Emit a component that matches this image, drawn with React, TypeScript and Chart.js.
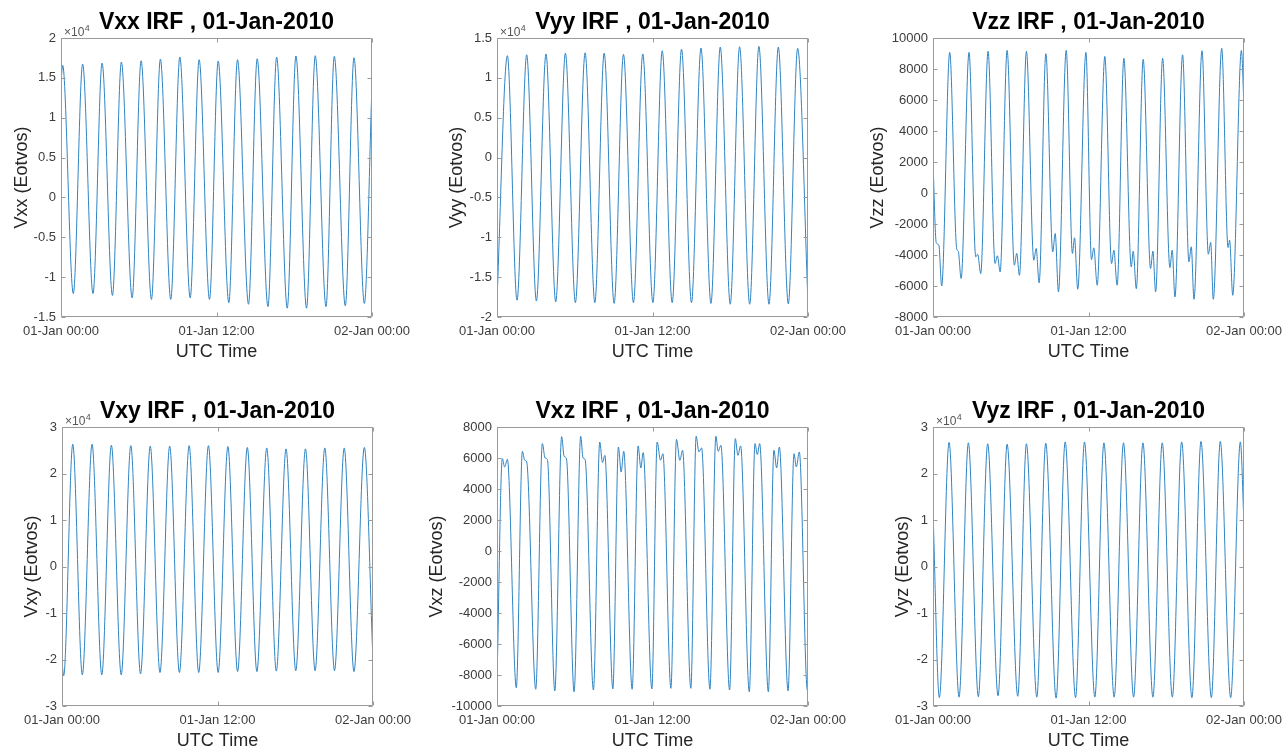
import React, { useEffect, useRef } from 'react';
import { Chart, registerables } from 'chart.js';

Chart.register(...registerables);

const FONT = '"Liberation Sans", Arial, Helvetica, sans-serif';

// ---- shared x axis (hours after 01-Jan-2010 00:00 UTC) ----
const xTickHours = [0, 12, 24];
const xTickLabels = ['01-Jan 00:00', '01-Jan 12:00', '02-Jan 00:00'];

// ---- Vxx (Eotvos): extrema ----
const vxxHours = [0, 0.13, 0.95, 1.67, 2.47, 3.17, 3.97, 4.66, 5.49, 6.18, 6.98, 7.67, 8.47, 9.17, 9.97, 10.66, 11.46, 12.13, 12.95, 13.62, 14.47, 15.14, 15.97, 16.64, 17.46, 18.13, 18.95, 19.62, 20.45, 21.09, 21.94, 22.61, 23.41, 24];
const vxxValues = [14500, 16560, -12060, 16730, -12060, 16860, -12300, 16980, -12600, 17150, -12800, 17360, -12800, 17610, -12600, 17280, -12800, 17110, -13200, 17280, -13400, 17400, -13700, 17610, -13900, 17740, -13900, 17780, -13700, 17700, -13600, 17530, -13300, 14200];
const vxxTicks = [-15000, -10000, -5000, 0, 5000, 10000, 15000, 20000];

// ---- Vyy ----
const vyyHours = [0, 0.8, 1.545, 2.29, 3.04, 3.78, 4.53, 5.28, 6.05, 6.8, 7.55, 8.27, 9.04, 9.76, 10.53, 11.25, 12.03, 12.75, 13.52, 14.24, 15.01, 15.74, 16.51, 17.23, 18.0, 18.72, 19.5, 20.21, 20.99, 21.71, 22.48, 23.2, 24];
const vyyValues = [-17900, 12780, -17900, 12900, -18000, 13000, -18100, 13100, -18200, 13150, -18200, 13100, -18300, 12950, -18200, 13000, -18200, 13400, -18200, 13600, -18200, 13750, -18300, 13870, -18400, 13900, -18400, 13950, -18400, 13870, -18350, 13700, -18300];
const vyyTicks = [-20000, -15000, -10000, -5000, 0, 5000, 10000, 15000];

// ---- Vzz ----
const vzzHours = [0, 0.25, 0.45, 0.67,
  1.29, 1.83, 1.95, 2.17,
  2.78, 3.30, 3.45, 3.68,
  4.25, 4.79, 4.97, 5.18,
  5.72, 6.28, 6.46, 6.67,
  7.21, 7.78, 7.96, 8.19,
  8.71, 9.24, 9.43, 9.68,
  10.28, 10.76, 10.92, 11.17,
  11.80, 12.23, 12.41, 12.67,
  13.26, 13.78, 13.96, 14.21,
  14.73, 15.30, 15.45, 15.69,
  16.22, 16.79, 16.97, 17.18,
  17.72, 18.28, 18.46, 18.67,
  19.26, 19.75, 19.93, 20.14,
  20.76, 21.25, 21.43, 21.63,
  22.28, 22.77, 22.89, 23.13,
  23.80, 24];
const vzzValues = [2000, -3200, -3350, -6000,
  9070, -3600, -3750, -5520,
  9070, -4120, -3950, -5200,
  9140, -4550, -4050, -5090,
  9200, -4660, -3900, -5310,
  9140, -4340, -3580, -5800,
  8990, -3800, -2610, -6380,
  9200, -3900, -2890, -6210,
  9070, -4290, -3540, -5950,
  8810, -4550, -3690, -5950,
  8690, -4770, -3750, -6170,
  8620, -4870, -3750, -6380,
  8690, -4810, -3690, -6710,
  8920, -4440, -3470, -6860,
  9180, -3950, -3190, -6860,
  9330, -3520, -3040, -6600,
  9200, 5500];
const vzzTicks = [-8000, -6000, -4000, -2000, 0, 2000, 4000, 6000, 8000, 10000];

// ---- Vxy ----
const vxyHours = [0, 0.13, 0.83, 1.57, 2.32, 3.07, 3.81, 4.57, 5.31, 6.06, 6.81, 7.56, 8.31, 9.06, 9.81, 10.55, 11.3, 12.05, 12.8, 13.55, 14.3, 15.04, 15.8, 16.54, 17.29, 18.04, 18.79, 19.53, 20.28, 21.03, 21.78, 22.53, 23.33, 24];
const vxyValues = [-20500, -23500, 26300, -23300, 26300, -23300, 26100, -23300, 26000, -23100, 25900, -22800, 25900, -22800, 26000, -22800, 26000, -22800, 25800, -22600, 25600, -22600, 25500, -22500, 25300, -22400, 25300, -22400, 25500, -22400, 25500, -22600, 25600, -20500];
const vxyTicks = [-30000, -20000, -10000, 0, 10000, 20000, 30000];

// ---- Vxz ----
const vxzHours = [0, 0.41, 0.59, 0.80,
  1.49, 1.96, 2.14, 2.29,
  2.99, 3.50, 3.71, 3.89,
  4.46, 4.99, 5.18, 5.36,
  5.95, 6.46, 6.64, 6.80,
  7.44, 7.93, 8.14, 8.32,
  8.94, 9.37, 9.58, 9.78,
  10.43, 10.89, 11.10, 11.28,
  11.95, 12.36, 12.62, 12.80,
  13.42, 13.85, 14.11, 14.32,
  14.96, 15.37, 15.58, 15.79,
  16.43, 16.89, 17.07, 17.28,
  17.95, 18.39, 18.59, 18.80,
  19.47, 19.91, 20.09, 20.27,
  20.94, 21.37, 21.58, 21.79,
  22.46, 22.92, 23.10, 23.33,
  23.95, 24];
const vxzValues = [-8500, 5960, 5420, 5920,
  -8820, 6430, 5850, 5750,
  -8920, 6930, 6000, 5900,
  -9030, 7380, 6100, 5950,
  -9080, 7400, 6000, 5900,
  -8970, 7030, 5700, 6170,
  -8900, 6710, 5100, 6430,
  -8920, 6780, 5360, 6350,
  -8900, 7030, 5850, 6280,
  -8860, 7200, 5850, 6500,
  -8860, 7400, 6390, 6650,
  -8920, 7400, 6430, 6820,
  -8970, 7250, 6170, 6780,
  -9080, 6930, 6220, 6930,
  -9080, 6500, 5360, 6710,
  -9030, 6280, 5420, 6390,
  -8970, -8900];
const vxzTicks = [-10000, -8000, -6000, -4000, -2000, 0, 2000, 4000, 6000, 8000];

// ---- Vyz ----
const vyzHours = [0, 0.49, 1.24, 2.01, 2.73, 3.5, 4.22, 5.02, 5.72, 6.54, 7.21, 8.01, 8.7, 9.5, 10.2, 11.0, 11.69, 12.49, 13.19, 13.98, 14.7, 15.48, 16.2, 16.97, 17.69, 18.47, 19.19, 19.98, 20.68, 21.48, 22.17, 22.97, 23.72, 24];
const vyzValues = [12000, -28200, 26700, -28100, 26600, -28000, 26400, -27800, 26300, -27900, 26400, -28100, 26500, -28300, 26800, -28200, 26800, -28100, 26600, -28100, 26600, -28100, 26600, -28100, 26600, -28100, 26800, -28200, 26900, -28200, 26900, -28200, 26800, 9000];
const vyzTicks = [-30000, -20000, -10000, 0, 10000, 20000, 30000];

// ---- styling / layout constants ----
const LINE_COLOR = '#2f84c3';
const BOX_COLOR = '#9a9a9a';
const TICK_TEXT = '#3c3c3c';
const LABEL_TEXT = '#262626';
const PLOT_W = 311;
const PLOT_H = 279;
const TITLE_H = 38;
const X_AXIS_H = 46;
const PAD_R = 38;

const framePlugin = {
  id: 'matlabFrame',
  afterDraw(chart: any, _args: any, opts: any) {
    const { ctx, chartArea: a, scales } = chart;
    const L = Math.round(a.left) + 0.5;
    const R = Math.round(a.right) - 0.5;
    const T = Math.round(a.top) + 0.5;
    const B = Math.round(a.bottom) - 0.5;
    const tl = 4;
    ctx.save();
    ctx.strokeStyle = BOX_COLOR;
    ctx.lineWidth = 1;
    ctx.beginPath();
    ctx.rect(L, T, R - L, B - T);
    for (const t of scales.y.ticks) {
      const y = Math.round(scales.y.getPixelForValue(t.value)) + 0.5;
      ctx.moveTo(L, y); ctx.lineTo(L + tl, y);
      ctx.moveTo(R, y); ctx.lineTo(R - tl, y);
    }
    for (const t of scales.x.ticks) {
      const x = Math.round(scales.x.getPixelForValue(t.value)) + 0.5;
      ctx.moveTo(x, B); ctx.lineTo(x, B - tl);
      ctx.moveTo(x, T); ctx.lineTo(x, T + tl);
    }
    ctx.stroke();
    if (opts && opts.exponent) {
      ctx.fillStyle = '#555555';
      ctx.textBaseline = 'alphabetic';
      ctx.textAlign = 'left';
      ctx.font = `12px ${FONT}`;
      const base = '\u00d710';
      ctx.fillText(base, a.left + 3, a.top - 2);
      const w = ctx.measureText(base).width;
      ctx.font = `9px ${FONT}`;
      ctx.fillText('4', a.left + 3 + w + 0.5, a.top - 7);
    }
    ctx.restore();
  },
};

type PanelProps = {
  title: string;
  yLabel: string;
  hours: number[];
  values: number[];
  yTicks: number[];
  exponent: boolean;
  plotL: number;
  plotT: number;
  yTitleX: number;
};

function fmtY(v: number, exponent: boolean): string {
  if (exponent) {
    const n = Math.round((v / 1e4) * 100) / 100;
    return String(n);
  }
  return String(v);
}

function Panel(p: PanelProps) {
  const ref = useRef<HTMLCanvasElement | null>(null);
  const canvasLeft = Math.round(p.yTitleX - 12.8);
  const yw = p.plotL - canvasLeft;
  const yTitlePad = p.yTitleX - canvasLeft - 10.8;
  const W = yw + PLOT_W + PAD_R;
  const H = TITLE_H + PLOT_H + X_AXIS_H;
  const top = p.plotT - TITLE_H;

  useEffect(() => {
    if (!ref.current) return;
    const chart = new Chart(ref.current, {
      type: 'line',
      data: {
        datasets: [
          {
            data: p.hours.map((h, i) => ({ x: h, y: p.values[i] })),
            borderColor: LINE_COLOR,
            borderWidth: 1,
            pointRadius: 0,
            fill: false,
            cubicInterpolationMode: 'monotone',
          },
        ],
      },
      options: {
        responsive: false,
        animation: false,
        events: [],
        layout: { padding: { left: 0, top: 0, right: PAD_R, bottom: 0 }, autoPadding: false },
        plugins: {
          legend: { display: false },
          tooltip: { enabled: false },
          title: {
            display: true,
            text: p.title,
            fullSize: false,
            color: '#000000',
            font: { family: FONT, size: 23, weight: 'bold', lineHeight: 1.2 },
            padding: { top: 9.2, bottom: 1.2 },
          },
          matlabFrame: { exponent: p.exponent },
        } as any,
        scales: {
          x: {
            type: 'linear',
            min: xTickHours[0],
            max: xTickHours[xTickHours.length - 1],
            afterBuildTicks: (s: any) => {
              s.ticks = xTickHours.map((v) => ({ value: v }));
            },
            afterFit: (s: any) => {
              s.height = X_AXIS_H;
              s.paddingLeft = 0;
              s.paddingRight = 0;
            },
            ticks: {
              autoSkip: false,
              maxRotation: 0,
              minRotation: 0,
              padding: 7,
              color: TICK_TEXT,
              font: { family: FONT, size: 13 },
              callback: (_v: any, i: number) => xTickLabels[i],
            },
            grid: { display: false, drawTicks: false },
            border: { display: false },
            title: {
              display: true,
              text: 'UTC Time',
              color: LABEL_TEXT,
              font: { family: FONT, size: 18 },
              padding: { top: 0, bottom: 0 },
            },
          },
          y: {
            type: 'linear',
            min: p.yTicks[0],
            max: p.yTicks[p.yTicks.length - 1],
            afterBuildTicks: (s: any) => {
              s.ticks = p.yTicks.map((v) => ({ value: v }));
            },
            afterFit: (s: any) => {
              s.width = yw;
              s.paddingTop = 0;
              s.paddingBottom = 0;
            },
            ticks: {
              autoSkip: false,
              padding: 5,
              color: TICK_TEXT,
              font: { family: FONT, size: 13 },
              callback: (v: any) => fmtY(Number(v), p.exponent),
            },
            grid: { display: false, drawTicks: false },
            border: { display: false },
            title: {
              display: true,
              text: p.yLabel,
              color: LABEL_TEXT,
              font: { family: FONT, size: 18 },
              padding: { top: yTitlePad, bottom: 0 },
            },
          },
        },
      } as any,
      plugins: [framePlugin],
    });
    return () => chart.destroy();
  }, []);

  return (
    <canvas
      ref={ref}
      width={W}
      height={H}
      style={{ position: 'absolute', left: canvasLeft, top, width: W, height: H }}
    />
  );
}

export default function App() {
  return (
    <div
      style={{
        position: 'absolute',
        left: 0,
        top: 0,
        width: 1282,
        height: 751,
        overflow: 'hidden',
        background: '#ffffff',
      }}
    >
      <Panel title="Vxx IRF , 01-Jan-2010" yLabel="Vxx (Eotvos)" hours={vxxHours} values={vxxValues} yTicks={vxxTicks} exponent={true} plotL={61} plotT={38} yTitleX={22} />
      <Panel title="Vyy IRF , 01-Jan-2010" yLabel="Vyy (Eotvos)" hours={vyyHours} values={vyyValues} yTicks={vyyTicks} exponent={true} plotL={497} plotT={38} yTitleX={456.7} />
      <Panel title="Vzz IRF , 01-Jan-2010" yLabel="Vzz (Eotvos)" hours={vzzHours} values={vzzValues} yTicks={vzzTicks} exponent={false} plotL={933} plotT={38} yTitleX={878.3} />
      <Panel title="Vxy IRF , 01-Jan-2010" yLabel="Vxy (Eotvos)" hours={vxyHours} values={vxyValues} yTicks={vxyTicks} exponent={true} plotL={62} plotT={427} yTitleX={31.7} />
      <Panel title="Vxz IRF , 01-Jan-2010" yLabel="Vxz (Eotvos)" hours={vxzHours} values={vxzValues} yTicks={vxzTicks} exponent={false} plotL={497} plotT={427} yTitleX={437.3} />
      <Panel title="Vyz IRF , 01-Jan-2010" yLabel="Vyz (Eotvos)" hours={vyzHours} values={vyzValues} yTicks={vyzTicks} exponent={true} plotL={933} plotT={427} yTitleX={903.3} />
    </div>
  );
}
